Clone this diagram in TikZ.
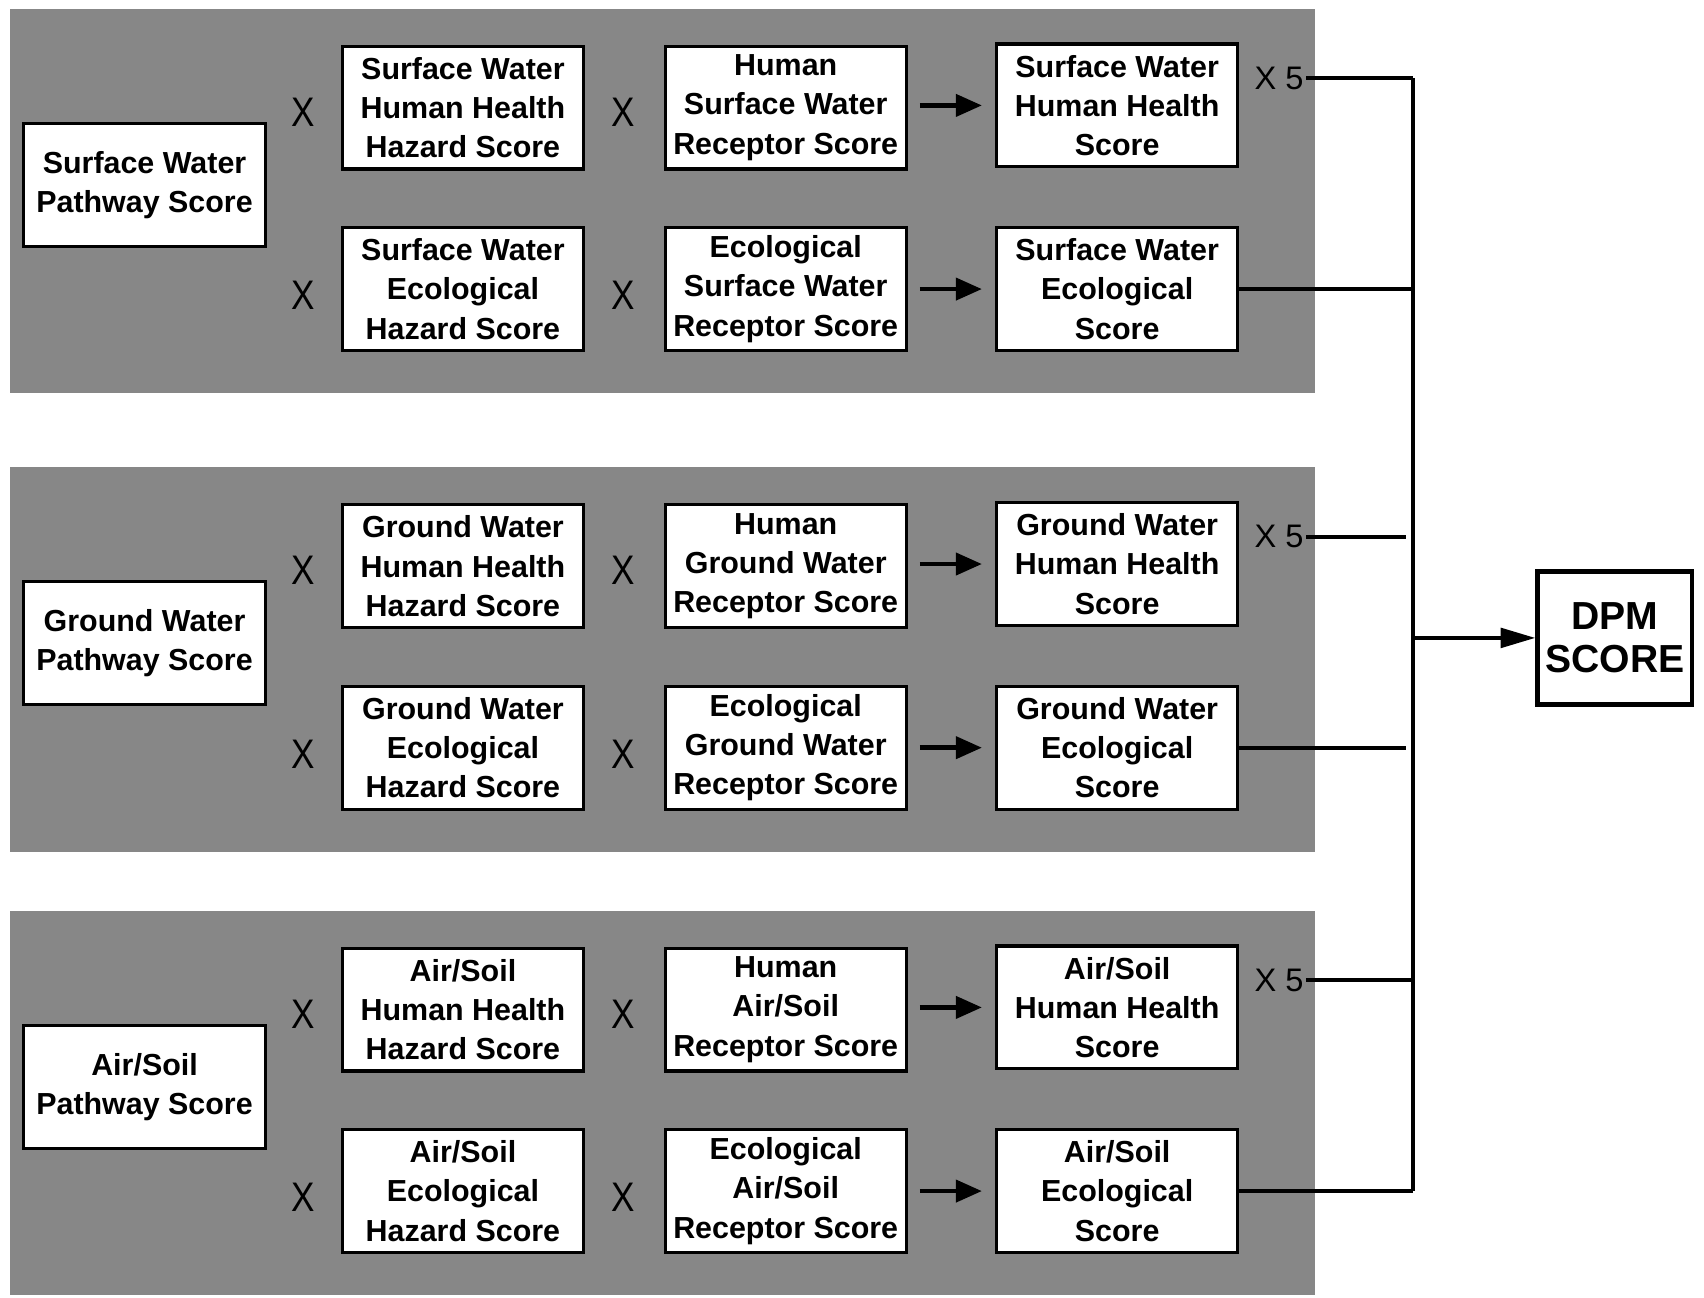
\documentclass[tikz,border=0pt]{standalone}
\usepackage{fontspec}
\setmainfont{Liberation Sans}
\usetikzlibrary{arrows.meta}
\begin{document}
\begin{tikzpicture}[x=0.5pt,y=-0.5pt,
 panel/.style={fill=black!47, draw=none},
 box/.style={draw, line width=1.4pt, fill=white, minimum width=111pt, minimum height=56.5pt,
   align=center, inner sep=1pt, font=\fontsize{14}{18}\selectfont\bfseries},
 timesx/.style={font=\fontsize{19}{20}\selectfont, inner sep=0pt, xscale=0.85},
 xfive/.style={font=\fontsize{15}{16}\selectfont, inner sep=1pt},
 link/.style={line width=1.8pt},
 flow/.style={line width=2.2pt, -{Triangle[length=12pt,width=10pt]}},
 bigflow/.style={line width=1.8pt, -{Triangle[length=16pt,width=9pt]}},
 result/.style={draw, line width=2.2pt, fill=white, minimum width=71pt, minimum height=61pt,
   align=center, inner sep=0pt, font=\fontsize{18}{19.5}\selectfont\bfseries}]
\useasboundingbox (0,0) rectangle (1568,1194);
\fill[white] (0,0) rectangle (1568,1194);
\def\airsoil{Air/Soil}
\foreach \p/\t/\m/\g in {1/8/Surface Water/0pt, 2/430/Ground Water/3pt, 3/838/\airsoil/0pt}{
  \fill[panel] (9,\t) rectangle (1210,\t+354);
  \node[box] (pw\p) at (133,\t+162) {\m\\Pathway Score};
  \node[box] (hh\p) at (426,\t+91) {\m\\Human Health\\Hazard Score};
  \node[box] (eh\p) at (426,\t+258) {\m\\Ecological\\Hazard Score};
  \node[box] (hr\p) at (723,\t+91) {Human\\\m\\Receptor Score};
  \node[box] (er\p) at (723,\t+258) {Ecological\\\m\\Receptor Score};
  \node[box] (hs\p) at (1028,\t+89) {\m\\Human Health\\Score};
  \node[box] (es\p) at (1028,\t+258) {\m\\Ecological\\Score};
  \node[timesx] (xa\p) at (279,\t+95) {X};
  \node[timesx] (xb\p) at (279,\t+264) {X};
  \node[timesx] (xc\p) at (573,\t+95) {X};
  \node[timesx] (xd\p) at (573,\t+264) {X};
  \node[xfive] (xf\p) at (1177,\t+64) {X 5};
  \coordinate (bh\p) at (1300,\t+64);
  \coordinate (be\p) at (1300,\t+258);
  \draw[flow, shorten <=5.5pt, shorten >=6pt] (hr\p.east |- hs\p.west) -- (hs\p.west);
  \draw[flow, shorten <=5.5pt, shorten >=6pt] (er\p.east) -- (es\p.west);
  \draw[link, shorten >=\g] (xf\p.east) -- (bh\p);
  \draw[link, shorten >=\g] (es\p.east) -- (be\p);
}
\node[result] (dpm) at (1486,587) {DPM\\SCORE};
\coordinate (bm) at (1300,587);
\draw[link] (bh1) -- (be3);
\draw[bigflow] (bm) -- (dpm.west);
\end{tikzpicture}
\end{document}
